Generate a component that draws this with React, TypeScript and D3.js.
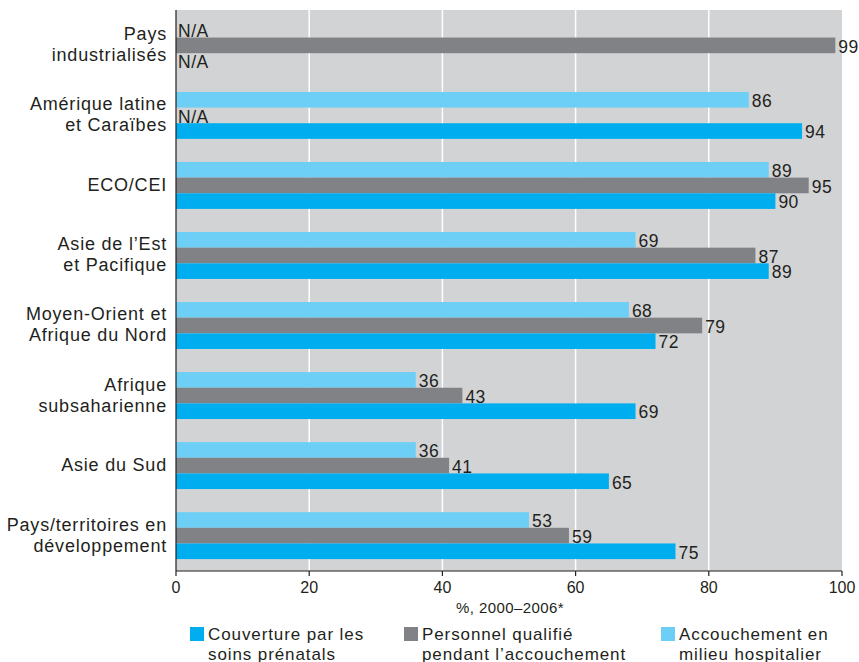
import React from 'react';
import * as d3 from 'd3';

// regions, top to bottom (label lines)
const categories = [
  ['Pays', 'industrialisés'],
  ['Amérique latine', 'et Caraïbes'],
  ['ECO/CEI'],
  ['Asie de l’Est', 'et Pacifique'],
  ['Moyen-Orient et', 'Afrique du Nord'],
  ['Afrique', 'subsaharienne'],
  ['Asie du Sud'],
  ['Pays/territoires en', 'développement'],
];

// null = N/A
const hospital = [null, 86, 89, 69, 68, 36, 36, 53];
const skilled = [99, null, 95, 87, 79, 43, 41, 59];
const antenatal = [null, 94, 90, 89, 72, 69, 65, 75];

const xTicks = [0, 20, 40, 60, 80, 100];
const axisTitle = '%, 2000–2006*';

const seriesKeys = ['hospital', 'skilled', 'antenatal'];
const seriesValues = { hospital, skilled, antenatal };
const colors = { hospital: '#6dcff6', skilled: '#808285', antenatal: '#00aeef' };

const legendItems = [
  { key: 'antenatal', lines: ['Couverture par les', 'soins prénatals'] },
  { key: 'skilled', lines: ['Personnel qualifié', 'pendant l’accouchement'] },
  { key: 'hospital', lines: ['Accouchement en', 'milieu hospitalier'] },
];

const W = 859;
const H = 662;
const FONT = '"Liberation Sans", Arial, sans-serif';
const INK = '#231f20';

export default function App() {
  const left = 176, right = 842, top = 10, bottom = 571;

  const x = d3.scaleLinear().domain([0, 100]).range([left, right]);
  const y = d3.scaleBand()
    .domain(d3.range(categories.length).map(String))
    .range([top, bottom])
    .paddingInner(0.33)
    .paddingOuter(0.17);
  const ySub = d3.scaleBand().domain(seriesKeys).range([0, y.bandwidth()]);

  const legendX = [190, 404, 661];

  return (
    <svg width={W} height={H} style={{ display: 'block', position: 'absolute', left: 0, top: 0 }}
      fontFamily={FONT}>
      <rect x={left} y={top} width={right - left} height={bottom - top} fill="#d1d3d4" />
      {xTicks.filter(t => t > 0 && t < 100).map(t => (
        <line key={t} x1={x(t)} x2={x(t)} y1={top} y2={bottom} stroke="#fff" strokeWidth={1.5} />
      ))}

      {categories.map((lines, i) => {
        const g0 = y(String(i));
        const cy = g0 + y.bandwidth() / 2;
        return (
          <g key={i}>
            {lines.map((ln, j) => (
              <text key={j} x={167} y={cy - 1 + (j - (lines.length - 1) / 2) * 21} dy="0.36em"
                textAnchor="end" fontSize={18} fill={INK} letterSpacing={0.8}>{ln}</text>
            ))}
            {seriesKeys.map(k => {
              const v = seriesValues[k][i];
              const by = g0 + ySub(k);
              const bh = ySub.bandwidth();
              if (v == null) {
                return (
                  <text key={k} x={left + 2} y={by + bh / 2 + 1} dy="0.36em" fontSize={17.5}
                    fill={INK} letterSpacing={0.5}>N/A</text>
                );
              }
              return (
                <g key={k}>
                  <rect x={x(0)} y={by} width={x(v) - x(0)} height={bh} fill={colors[k]} />
                  <text x={x(v) + 3} y={by + bh / 2 + 1} dy="0.36em" fontSize={17.5}
                    fill={INK} letterSpacing={0.5}>{v}</text>
                </g>
              );
            })}
          </g>
        );
      })}

      <line x1={left} x2={left} y1={top} y2={bottom} stroke={INK} strokeWidth={1.2} />
      <line x1={left} x2={right} y1={bottom} y2={bottom} stroke={INK} strokeWidth={1.2} />
      {xTicks.map(t => (
        <g key={t}>
          <line x1={x(t)} x2={x(t)} y1={bottom} y2={bottom + 5} stroke={INK} strokeWidth={1.2} />
          <text x={x(t)} y={bottom + 22} textAnchor="middle" fontSize={16} fill={INK}>{t}</text>
        </g>
      ))}
      <text x={(left + right) / 2 + 1} y={613} textAnchor="middle" fontSize={15} fill={INK}
        letterSpacing={0.4}>{axisTitle}</text>

      {legendItems.map((it, i) => (
        <g key={it.key}>
          <rect x={legendX[i]} y={627} width={14} height={14} fill={colors[it.key]} />
          {it.lines.map((ln, j) => (
            <text key={j} x={legendX[i] + 18} y={640 + j * 19.5} fontSize={17} fill={INK}
              letterSpacing={0.9}>{ln}</text>
          ))}
        </g>
      ))}
    </svg>
  );
}
